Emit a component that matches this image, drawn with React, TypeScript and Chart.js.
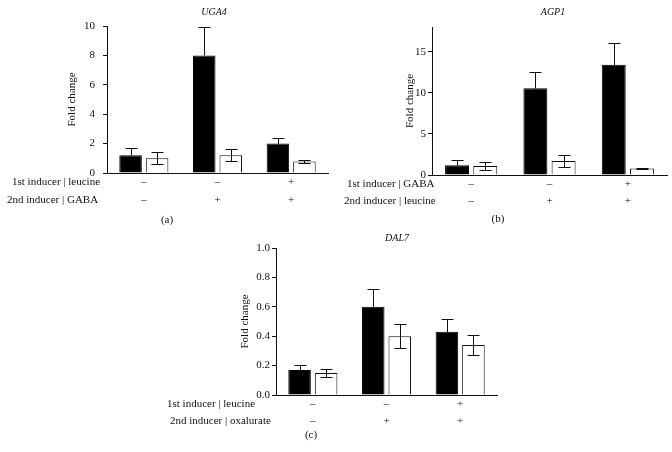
import React, { useEffect, useRef } from 'react';
import { Chart, registerables } from 'chart.js';

Chart.register(...registerables);

const W = 672;
const H = 452;
const FONT = '"Liberation Serif", "Times New Roman", serif';

// shared categories (three conditions)
const categories = ['cond1', 'cond2', 'cond3'];

// Panel (a) UGA4
const ugaBlack = [1.2, 8.0, 2.0];
const ugaBlackErr = [0.5, 1.95, 0.37];
const ugaWhite = [1.0, 1.2, 0.78];
const ugaWhiteErr = [0.4, 0.4, 0.08];
const ugaTicks = [0, 2, 4, 6, 8, 10];
const ugaTickLabels = ['0', '2', '4', '6', '8', '10'];
const ugaRows = ['1st inducer | leucine', '2nd inducer | GABA'];

// Panel (b) AGP1
const agpBlack = [1.2, 10.55, 13.4];
const agpBlackErr = [0.6, 1.95, 2.6];
const agpWhite = [1.1, 1.7, 0.8];
const agpWhiteErr = [0.5, 0.75, 0.1];
const agpTicks = [0, 5, 10, 15];
const agpTickLabels = ['0', '5', '10', '15'];
const agpRows = ['1st inducer | GABA', '2nd inducer | leucine'];

// Panel (c) DAL7
const dalBlack = [0.17, 0.6, 0.43];
const dalBlackErr = [0.035, 0.12, 0.087];
const dalWhite = [0.15, 0.4, 0.34];
const dalWhiteErr = [0.03, 0.08, 0.07];
const dalTicks = [0, 0.2, 0.4, 0.6, 0.8, 1.0];
const dalTickLabels = ['0.0', '0.2', '0.4', '0.6', '0.8', '1.0'];
const dalRows = ['1st inducer | leucine', '2nd inducer | oxalurate'];

// row signs
const signsRow1 = ['\u2013', '\u2013', '+'];
const signsRow2 = ['\u2013', '+', '+'];

type Panel = {
  title: string;
  letter: string;
  black: number[];
  blackErr: number[];
  white: number[];
  whiteErr: number[];
  max: number;
  ticks: number[];
  tickLabels: string[];
  rows: string[];
  area: { left: number; right: number; top: number; bottom: number };
  tickPad: number;
  titleX: number;
  titleY: number;
  ylabelX: number;
  rowX: number[];
  rowY: number[];
  letterX: number;
  letterY: number;
};

const panels: Panel[] = [
  {
    title: 'UGA4', letter: '(a)',
    black: ugaBlack, blackErr: ugaBlackErr, white: ugaWhite, whiteErr: ugaWhiteErr,
    max: 10, ticks: ugaTicks, tickLabels: ugaTickLabels, rows: ugaRows,
    area: { left: 107, right: 328, top: 26, bottom: 173 },
    tickPad: 8, titleX: 214, titleY: 12, ylabelX: 72,
    rowX: [12, 7], rowY: [182, 200], letterX: 167, letterY: 220,
  },
  {
    title: 'AGP1', letter: '(b)',
    black: agpBlack, blackErr: agpBlackErr, white: agpWhite, whiteErr: agpWhiteErr,
    max: 18, ticks: agpTicks, tickLabels: agpTickLabels, rows: agpRows,
    area: { left: 432, right: 667, top: 27, bottom: 175 },
    tickPad: 2, titleX: 553, titleY: 12, ylabelX: 410,
    rowX: [347, 344], rowY: [184, 201], letterX: 498, letterY: 219,
  },
  {
    title: 'DAL7', letter: '(c)',
    black: dalBlack, blackErr: dalBlackErr, white: dalWhite, whiteErr: dalWhiteErr,
    max: 1.0, ticks: dalTicks, tickLabels: dalTickLabels, rows: dalRows,
    area: { left: 276, right: 497, top: 248, bottom: 395 },
    tickPad: 2, titleX: 397, titleY: 238, ylabelX: 245,
    rowX: [167, 170], rowY: [404, 421], letterX: 311, letterY: 435,
  },
];

const YW = 40;

function buildChart(canvas: HTMLCanvasElement, p: Panel) {
  const errorBars = {
    id: 'errorBars',
    afterDatasetsDraw(chart: any) {
      const ctx = chart.ctx;
      const ys = chart.scales.y;
      ctx.save();
      ctx.strokeStyle = '#111';
      ctx.lineWidth = 1;
      [p.blackErr, p.whiteErr].forEach((errs, di) => {
        const meta = chart.getDatasetMeta(di);
        const vals = chart.data.datasets[di].data as number[];
        meta.data.forEach((bar: any, i: number) => {
          const x = Math.round(bar.x) + 0.5;
          const v = vals[i];
          const e = errs[i];
          const yv = Math.round(ys.getPixelForValue(v)) + 0.5;
          const yt = Math.round(ys.getPixelForValue(v + e)) + 0.5;
          const yb = Math.round(ys.getPixelForValue(v - e)) + 0.5;
          ctx.beginPath();
          // black bars: lower half is hidden inside the filled bar
          ctx.moveTo(x, yt);
          ctx.lineTo(x, di === 0 ? yv : yb);
          ctx.moveTo(x - 6, yt);
          ctx.lineTo(x + 6, yt);
          if (di === 1) {
            ctx.moveTo(x - 6, yb);
            ctx.lineTo(x + 6, yb);
          }
          ctx.stroke();
        });
      });
      ctx.restore();
    },
  };

  const texts = {
    id: 'texts',
    afterDraw(chart: any) {
      const ctx = chart.ctx;
      const xs = chart.scales.x;
      ctx.save();
      ctx.fillStyle = '#111';
      ctx.textBaseline = 'middle';
      // title
      ctx.font = `italic 10px ${FONT}`;
      ctx.textAlign = 'center';
      ctx.fillText(p.title, p.titleX, p.titleY);
      // y label
      ctx.font = `11px ${FONT}`;
      ctx.save();
      ctx.translate(p.ylabelX, (p.area.top + p.area.bottom) / 2);
      ctx.rotate(-Math.PI / 2);
      ctx.fillText('Fold change', 0, 0);
      ctx.restore();
      // rows
      ctx.textAlign = 'left';
      p.rows.forEach((r, i) => ctx.fillText(r, p.rowX[i], p.rowY[i]));
      ctx.textAlign = 'center';
      [signsRow1, signsRow2].forEach((signs, ri) => {
        signs.forEach((s, i) => {
          ctx.fillText(s, xs.getPixelForValue(i), p.rowY[ri]);
        });
      });
      // letter
      ctx.fillText(p.letter, p.letterX, p.letterY);
      ctx.restore();
    },
  };

  return new Chart(canvas, {
    type: 'bar',
    data: {
      labels: categories,
      datasets: [
        {
          data: p.black, backgroundColor: '#000', borderColor: '#000', borderWidth: 1,
          categoryPercentage: 0.72, barPercentage: 0.85,
        },
        {
          data: p.white, backgroundColor: '#fff', borderColor: '#111', borderWidth: 1,
          categoryPercentage: 0.72, barPercentage: 0.85,
        },
      ],
    },
    options: {
      responsive: false,
      animation: false,
      devicePixelRatio: 1,
      events: [],
      layout: {
        padding: {
          left: p.area.left - YW,
          right: W - p.area.right,
          top: p.area.top,
          bottom: H - p.area.bottom,
        },
      },
      plugins: {
        legend: { display: false },
        tooltip: { enabled: false },
        title: { display: false },
      },
      scales: {
        x: {
          grid: { display: false },
          ticks: { display: false },
          border: { color: '#111', width: 1 },
          afterFit: (s: any) => { s.height = 0; },
        },
        y: {
          min: 0,
          max: p.max,
          grid: {
            display: true, drawOnChartArea: false, drawTicks: true,
            tickLength: 4, color: '#111', tickColor: '#111',
          },
          border: { color: '#111', width: 1 },
          ticks: {
            padding: p.tickPad,
            color: '#111',
            font: { family: FONT, size: 11 },
            callback: (_v: any, i: number) => p.tickLabels[i],
          },
          afterBuildTicks: (s: any) => { s.ticks = p.ticks.map((v) => ({ value: v })); },
          afterFit: (s: any) => { s.width = YW; },
        },
      },
    } as any,
    plugins: [errorBars, texts],
  });
}

export default function App() {
  const refA = useRef<HTMLCanvasElement>(null);
  const refB = useRef<HTMLCanvasElement>(null);
  const refC = useRef<HTMLCanvasElement>(null);

  useEffect(() => {
    const refs = [refA, refB, refC];
    const charts = panels.map((p, i) => buildChart(refs[i].current as HTMLCanvasElement, p));
    return () => charts.forEach((c) => c.destroy());
  }, []);

  const cs: React.CSSProperties = { position: 'absolute', left: 0, top: 0, width: W, height: H };
  return (
    <div style={{ position: 'fixed', left: 0, top: 0, width: W, height: H, background: '#fff', overflow: 'hidden' }}>
      <canvas ref={refA} width={W} height={H} style={cs} />
      <canvas ref={refB} width={W} height={H} style={cs} />
      <canvas ref={refC} width={W} height={H} style={cs} />
    </div>
  );
}
